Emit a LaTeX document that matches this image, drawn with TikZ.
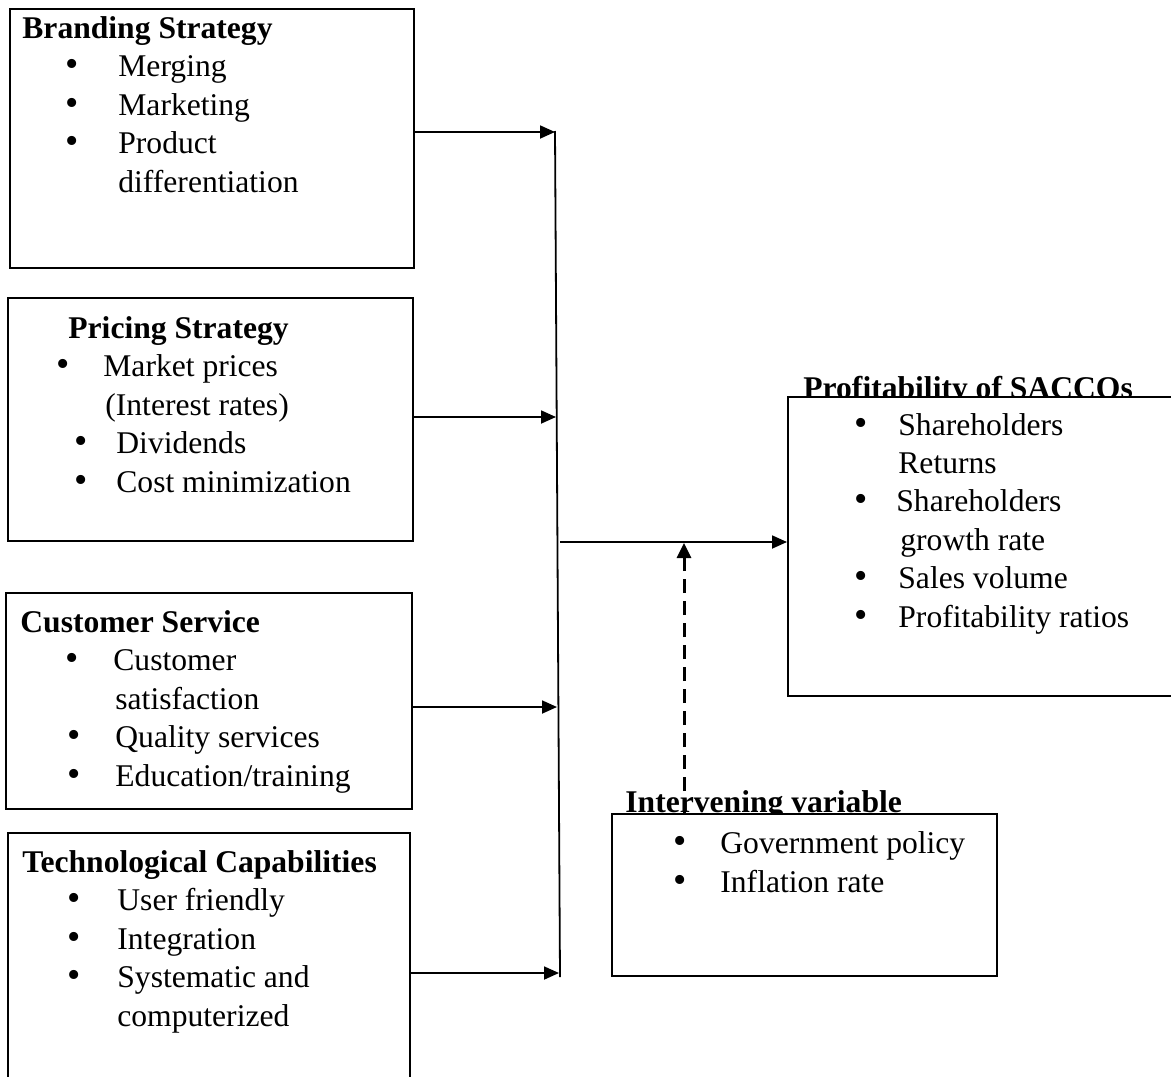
\documentclass[tikz,border=0pt]{standalone}
\usepackage{fontspec}
\setmainfont{Liberation Serif}
\usetikzlibrary{arrows.meta}

\newcommand{\bul}[2]{\hspace*{#1}\makebox[#2][l]{\scalebox{1.2}{\textbullet}}}

\begin{document}
\begin{tikzpicture}[x=0.5pt,y=-0.5pt,>={Triangle[length=7.5pt,width=6.5pt]},
    box/.style={draw,line width=1pt,fill=white,anchor=north west,inner sep=0},
    txt/.style={anchor=base west,inner sep=0,align=left,font=\fontsize{15.8}{19.2}\selectfont},
    conn/.style={line width=0.9pt,->}]
    \useasboundingbox (0,0) rectangle (1171,1076);

    % independent variables (text nodes sit on the baseline of their last line)
    \node[box,minimum width=202pt,minimum height=129.5pt] (brand) at (9,8) {};
    \node[txt] (brandtxt) at (22,192) {\textbf{Branding Strategy}\\
        \bul{21.5pt}{26.5pt}Merging\\
        \bul{21.5pt}{26.5pt}Marketing\\
        \bul{21.5pt}{26.5pt}Product\\
        \hspace*{48pt}differentiation};

    \node[box,minimum width=202.5pt,minimum height=121.5pt] (price) at (7,297) {};
    \node[txt] (pricetxt) at (56,492) {\hspace*{6pt}\textbf{Pricing Strategy}\\
        \bul{0pt}{23.5pt}Market prices\\
        \hspace*{24.5pt}(Interest rates)\\
        \bul{9pt}{21pt}Dividends\\
        \bul{9pt}{21pt}Cost minimization};

    \node[box,minimum width=203pt,minimum height=108pt] (cust) at (5,592) {};
    \node[txt] (custtxt) at (20,786) {\textbf{Customer Service}\\
        \bul{22.5pt}{24pt}Customer\\
        \hspace*{47.5pt}satisfaction\\
        \bul{23.5pt}{24pt}Quality services\\
        \bul{23.5pt}{24pt}Education/training};

    \node[box,minimum width=201pt,minimum height=129pt] (tech) at (7,832) {};
    \node[txt] (techtxt) at (22,1026) {\textbf{Technological Capabilities}\\
        \bul{22.5pt}{25pt}User friendly\\
        \bul{22.5pt}{25pt}Integration\\
        \bul{22.5pt}{25pt}Systematic and\\
        \hspace*{47.5pt}computerized};

    % dependent variable
    \node[txt] (proftitle) at (803,398) {\textbf{Profitability of SACCOs}};
    \node[box,minimum width=196.5pt,minimum height=149.5pt] (prof) at (787,396) {};
    \node[txt] (proftxt) at (803,627) {\bul{25.5pt}{22pt}Shareholders\\
        \hspace*{47.5pt}Returns\\
        \bul{25.5pt}{21pt}Shareholders\\
        \hspace*{48.5pt}growth rate\\
        \bul{25.5pt}{22pt}Sales volume\\
        \bul{25.5pt}{22pt}Profitability ratios};

    % intervening variable
    \node[txt] (intertitle) at (625,812) {\textbf{Intervening variable}};
    \node[box,minimum width=192.5pt,minimum height=81pt] (inter) at (611,813) {};
    \node[txt] (intertxt) at (625,892) {\bul{24pt}{23.5pt}Government policy\\
        \bul{24pt}{23.5pt}Inflation rate};

    % connectors
    \coordinate (c1) at (555,132);
    \coordinate (c2) at (556,417);
    \coordinate (c3) at (557,707);
    \coordinate (c4) at (559,973);
    \coordinate (hub) at (560,542);
    \coordinate (dt) at (684,543);
    \draw[line width=0.9pt] (555,131) -- (560,977);
    \draw[conn] (brand.east |- c1) -- (c1);
    \draw[conn] (price.east |- c2) -- (c2);
    \draw[conn] (cust.east |- c3) -- (c3);
    \draw[conn] (tech.east |- c4) -- (c4);
    \draw[conn] (hub) -- (hub -| prof.west);
    \draw[line width=1.5pt,dash pattern=on 7pt off 4pt,-{Triangle[length=7.5pt,width=7pt]}] (inter.north -| dt) -- (dt);
\end{tikzpicture}
\end{document}
